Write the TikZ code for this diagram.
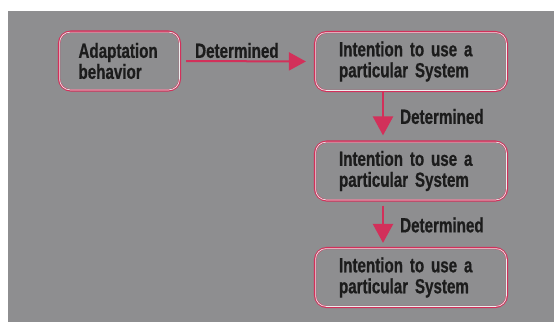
\documentclass[tikz,border=0pt]{standalone}
\usepackage{fontspec}
\setmainfont[FakeStretch=0.74]{Liberation Sans}
\newfontfamily\heavy[FakeStretch=0.74,FakeBold=0.6]{Liberation Sans Bold}
\usetikzlibrary{arrows.meta,calc}
\definecolor{panel}{HTML}{8E8E90}
\definecolor{crim}{HTML}{D2305A}
\definecolor{ink}{HTML}{1C1C1C}
\tikzset{
  box/.style={draw=crim, line width=2.2pt, rounded corners=12pt, fill=panel,
    minimum height=59pt, inner xsep=0pt, inner ysep=4pt, align=left,
    font=\heavy\fontsize{20.5}{21}\selectfont, text=ink},
  lbl/.style={font=\heavy\fontsize{20.5}{21}\selectfont, text=ink, inner sep=0pt},
  conn/.style={draw=crim, line width=2.4pt, -{Triangle[length=19pt,width=20pt]}},
}
\newcommand{\glow}[1]{\draw[white!85!panel, line width=0.7pt, rounded corners=10.5pt]
  ([shift={(1.7pt,-1.7pt)}]#1.north west) rectangle ([shift={(-1.7pt,1.7pt)}]#1.south east);}
\begin{document}
\begin{tikzpicture}[x=1pt,y=-1pt]
\useasboundingbox (0,0) rectangle (554,322);
\fill[white] (0,0) rectangle (554,322);
\fill[panel] (8,11) rectangle (554,322);
\node[box, minimum width=121pt, text width=82pt] (a) at (119.5,61) {Adaptation\\behavior};
\node[box, minimum width=192pt, text width=144pt] (b) at (411,61.5) {Intention to use a\\particular System};
\node[box, minimum width=192pt, text width=144pt] (c) at (411,171) {Intention to use a\\particular System};
\node[box, minimum width=192pt, text width=144pt] (d) at (411,277.5) {Intention to use a\\particular System};
\glow{a}\glow{b}\glow{c}\glow{d}
\coordinate (xa) at (383,0);
\draw[conn, line width=2pt, -{Triangle[length=17pt,width=18pt]}, shorten <=5pt, shorten >=8pt] (a.east) -- (b.west);
\draw[conn, shorten >=5pt] (b.south -| xa) -- (c.north -| xa);
\draw[conn, shorten <=4pt, shorten >=4pt] (c.south -| xa) -- (d.north -| xa);
\node[lbl, anchor=west] (l1) at (195,50.5) {Determined};
\node[lbl, anchor=west] (l2) at (400,116.5) {Determined};
\node[lbl, anchor=west] (l3) at (400,225) {Determined};
\end{tikzpicture}
\end{document}
